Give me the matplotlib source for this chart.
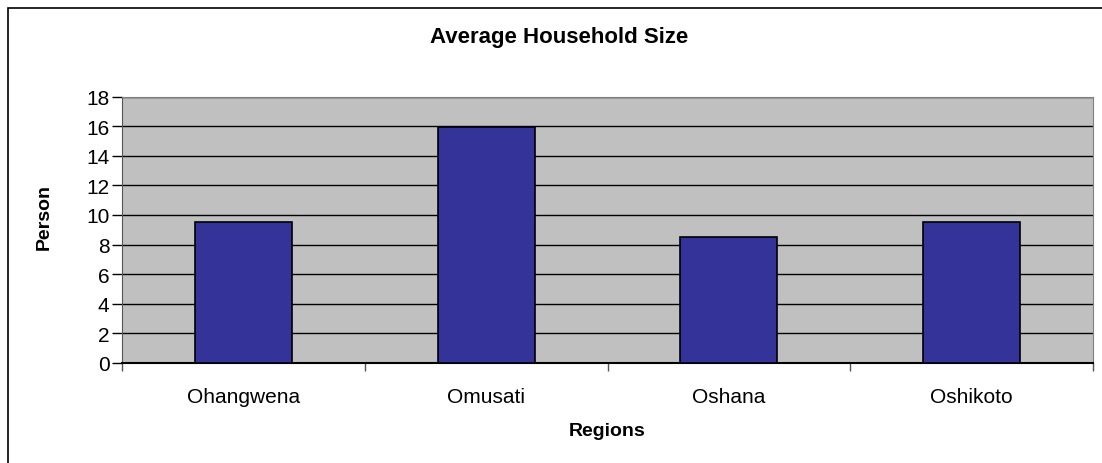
import matplotlib.pyplot as plt
from matplotlib.patches import Rectangle

regions = ['Ohangwena', 'Omusati', 'Oshana', 'Oshikoto']
household_size = [9.55, 15.95, 8.5, 9.55]
y_ticks = list(range(0, 20, 2))

plt.rcParams['font.family'] = ['Liberation Sans', 'DejaVu Sans']

fig = plt.figure(figsize=(11.02, 4.64), dpi=100)
ax = fig.add_axes([122 / 1102, 1 - 364 / 464, (1093 - 122) / 1102, (364 - 97.5) / 464])

# chart area border (only left/top visible in the reference)
fig.patches.append(Rectangle((8 / 1102, -0.01), 1.1, 1 - 9 / 464 + 0.01,
                             transform=fig.transFigure, fill=False,
                             edgecolor='black', linewidth=1.2))

ax.set_facecolor('#c0c0c0')
x = range(len(regions))
ax.bar(x, household_size, width=0.4, color='#333399', edgecolor='black',
       linewidth=1.2, zorder=3)

ax.set_xlim(-0.5, 3.5)
ax.set_ylim(0, 18)
ax.set_yticks(y_ticks)
ax.yaxis.grid(True, color='black', linewidth=1)
ax.set_axisbelow(True)

ax.set_xticks([-0.5, 0.5, 1.5, 2.5, 3.5], minor=False)
ax.set_xticklabels([])
ax.set_xticks(list(x), minor=True)
ax.set_xticklabels(regions, minor=True, fontsize=15)
ax.tick_params(axis='x', which='minor', length=0, pad=17)
ax.tick_params(axis='x', which='major', length=6, width=1, color='#555555')
ax.tick_params(axis='y', length=7, width=1, labelsize=15, pad=2)

for side in ['top', 'right']:
    ax.spines[side].set_color('#808080')
ax.spines['left'].set_color('#555555')
ax.spines['bottom'].set_color('black')
ax.spines['bottom'].set_linewidth(1.5)

ax.set_xlabel('Regions', fontsize=14, fontweight='bold', labelpad=12)
ax.set_ylabel('Person', fontsize=14, fontweight='bold')
ax.yaxis.set_label_coords(-0.071, 0.55)
fig.text(559 / 1102, 1 - 38 / 464, 'Average Household Size', ha='center',
         va='center', fontsize=16, fontweight='bold')

fig.savefig('out.png', dpi=100)
